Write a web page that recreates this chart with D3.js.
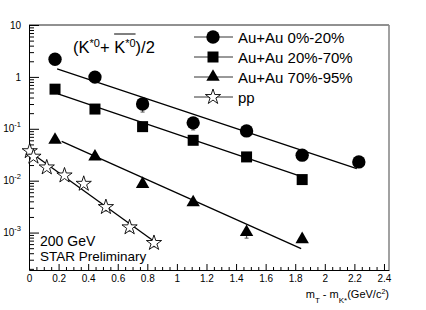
<!DOCTYPE html>
<html>
<head>
<meta charset="utf-8">
<script src="https://cdn.jsdelivr.net/npm/d3@7"></script>
<style>
  body { margin: 0; background: #fff; }
  svg { font-family: "Liberation Sans", Arial, Helvetica, sans-serif; }
</style>
</head>
<body>
<svg id="chart"></svg>
<script>
// values (x: mT - m0 in GeV/c^2, y: yield)
const central_x = [0.176, 0.446, 0.768, 1.110, 1.471, 1.847, 2.230];
const central_y = [2.19, 0.99, 0.30, 0.13, 0.091, 0.031, 0.023];
const central_err = [0, 0, 0.09, 0.035, 0, 0.006, 0];

const mid_x = [0.176, 0.446, 0.768, 1.110, 1.471, 1.847];
const mid_y = [0.58, 0.24, 0.11, 0.060, 0.0287, 0.0105];

const periph_x = [0.176, 0.446, 0.768, 1.110, 1.471, 1.847];
const periph_y = [0.061, 0.029, 0.0086, 0.0038, 0.00102, 0.00074];
const periph_err = [0, 0, 0, 0, 0.00024, 0];

const pp_x = [0.005, 0.03, 0.12, 0.24, 0.37, 0.52, 0.68, 0.845];
const pp_y = [0.037, 0.029, 0.018, 0.0126, 0.0087, 0.0031, 0.00126, 0.00063];
const pp_err = [0, 0, 0, 0, 0.001, 0.0005, 0.0002, 0.0001];

// exponential fits, drawn between their end points
const fitCentral = [[0.19, 1.43], [2.216, 0.017]];
const fitMid = [[0.196, 0.47], [1.824, 0.0125]];
const fitPeriph = [[0.221, 0.057], [1.84, 0.00049]];
const fitPP = [[0.0, 0.0369], [0.831, 0.00073]];

const legendLabels = ["Au+Au 0%-20%", "Au+Au 20%-70%", "Au+Au 70%-95%", "pp"];
const xMajorTicks = [0, 0.2, 0.4, 0.6, 0.8, 1, 1.2, 1.4, 1.6, 1.8, 2, 2.2, 2.4];
const yMajorTicks = [1e-3, 1e-2, 1e-1, 1, 10];

const W = 426, H = 310;
const svg = d3.select("#chart").attr("width", W).attr("height", H);

const x = d3.scaleLinear().domain([0, 2.434]).range([29, 389]);
const y = d3.scaleLog().domain([1.9e-4, 10]).range([270, 25]);

// minor ticks
const xMinor = d3.range(0, 2.4001, 0.05).filter(v => Math.abs(v / 0.2 - Math.round(v / 0.2)) > 1e-6);
const yMinor = [];
for (let e = -4; e <= 0; e++) {
  for (let k = 2; k <= 9; k++) {
    const v = k * Math.pow(10, e);
    if (v >= 1.9e-4 && v <= 10) yMinor.push(v);
  }
}

// frame
svg.append("line").attr("x1", 29).attr("x2", 389).attr("y1", 25).attr("y2", 25)
  .attr("stroke", "#222").attr("stroke-width", 1);
svg.append("line").attr("x1", 389).attr("x2", 389).attr("y1", 25).attr("y2", 270)
  .attr("stroke", "#8a8a8a").attr("stroke-width", 1.6);

// x axis
svg.append("g").attr("transform", "translate(0,270)")
  .call(d3.axisBottom(x).tickValues(xMinor).tickSizeInner(-3).tickSizeOuter(0).tickFormat(""))
  .call(g => g.select(".domain").remove());
svg.append("g").attr("transform", "translate(0,270)")
  .call(d3.axisBottom(x).tickValues(xMajorTicks).tickSizeInner(-6).tickSizeOuter(0)
    .tickPadding(5).tickFormat(d3.format("~g")))
  .call(g => g.selectAll("text").attr("font-size", 10).attr("font-family", null).attr("fill", "#000"))
  .call(g => g.selectAll(".domain, line").attr("stroke", "#000"));

// y axis
svg.append("g").attr("transform", "translate(29,0)")
  .call(d3.axisLeft(y).tickValues(yMinor).tickSizeInner(-5).tickSizeOuter(0).tickFormat(""))
  .call(g => g.select(".domain").remove());
const yAxis = svg.append("g").attr("transform", "translate(29,0)")
  .call(d3.axisLeft(y).tickValues(yMajorTicks).tickSizeInner(-10).tickSizeOuter(0).tickPadding(8))
  .call(g => g.selectAll(".domain, line").attr("stroke", "#000"));
yAxis.selectAll(".tick text").each(function (d) {
  const t = d3.select(this).text("").attr("font-size", 10).attr("font-family", null).attr("fill", "#000");
  const e = Math.round(Math.log10(d));
  if (e === 0) { t.text("1"); return; }
  t.append("tspan").text("10");
  if (e !== 1) t.append("tspan").attr("font-size", 7.5).attr("dy", -5).text(String(e));
});

// fit lines
const line = d3.line().x(d => x(d[0])).y(d => y(d[1]));
[fitCentral, fitMid, fitPeriph, fitPP].forEach(f => {
  svg.append("path").datum(f).attr("d", line)
    .attr("fill", "none").attr("stroke", "#000").attr("stroke-width", 1.3);
});

// error bars
function errBars(xs, ys, es) {
  xs.forEach((xv, i) => {
    if (!es[i]) return;
    svg.append("line")
      .attr("x1", x(xv)).attr("x2", x(xv))
      .attr("y1", y(ys[i] + es[i])).attr("y2", y(ys[i] - es[i]))
      .attr("stroke", "#555").attr("stroke-width", 1.2);
    svg.append("line")
      .attr("x1", x(xv) - 2).attr("x2", x(xv) + 2)
      .attr("y1", y(ys[i] - es[i])).attr("y2", y(ys[i] - es[i]))
      .attr("stroke", "#555").attr("stroke-width", 1);
  });
}
errBars(central_x, central_y, central_err);
errBars(periph_x, periph_y, periph_err);
errBars(pp_x, pp_y, pp_err);

// markers
const markers = [
  { xs: central_x, ys: central_y, sym: d3.symbol(d3.symbolCircle, 140), fill: "#000" },
  { xs: mid_x, ys: mid_y, sym: d3.symbol(d3.symbolSquare, 121), fill: "#000" },
  { xs: periph_x, ys: periph_y, sym: d3.symbol(d3.symbolTriangle, 78), fill: "#000" },
  { xs: pp_x, ys: pp_y, sym: d3.symbol(d3.symbolStar, 72), fill: "#fff" }
];
markers.forEach(m => {
  svg.append("g").selectAll("path")
    .data(m.xs.map((xv, i) => [xv, m.ys[i]]))
    .join("path")
    .attr("transform", d => `translate(${x(d[0])},${y(d[1])})`)
    .attr("d", m.sym)
    .attr("fill", m.fill)
    .attr("stroke", "#000")
    .attr("stroke-width", m.fill === "#fff" ? 0.9 : 0);
});

// legend
const leg = svg.append("g");
legendLabels.forEach((lab, i) => {
  const ly = 37 + i * 20;
  leg.append("line").attr("x1", 194).attr("x2", 233).attr("y1", ly).attr("y2", ly)
    .attr("stroke", "#333").attr("stroke-width", 1);
  leg.append("path").attr("transform", `translate(213,${ly})`).attr("d", markers[i].sym)
    .attr("fill", markers[i].fill).attr("stroke", "#000")
    .attr("stroke-width", markers[i].fill === "#fff" ? 0.9 : 0);
  leg.append("text").attr("x", 238).attr("y", ly + 5.5)
    .attr("font-size", 15).attr("fill", "#000").text(lab);
});

// title (K*0 + K*0bar)/2
const title = svg.append("text").attr("x", 73).attr("y", 53).attr("font-size", 16.5).attr("fill", "#000");
title.append("tspan").text("(K");
title.append("tspan").attr("font-size", 11).attr("dy", -6).text("*0");
title.append("tspan").attr("dy", 6).text("+ K");
title.append("tspan").attr("font-size", 11).attr("dy", -6).text("*0");
title.append("tspan").attr("dy", 6).text(")/2");
const tn = title.node();
const kStart = tn.getExtentOfChar(6);
const kEnd = tn.getExtentOfChar(8);
svg.append("line")
  .attr("x1", kStart.x).attr("x2", kEnd.x + kEnd.width)
  .attr("y1", 34).attr("y2", 34)
  .attr("stroke", "#000").attr("stroke-width", 1);

// annotations
svg.append("text").attr("x", 40).attr("y", 246).attr("font-size", 14).attr("fill", "#000").text("200 GeV");
svg.append("text").attr("x", 40).attr("y", 261).attr("font-size", 13.5).attr("fill", "#000").text("STAR Preliminary");

// x axis title
const xt = svg.append("text").attr("x", 389).attr("y", 298).attr("text-anchor", "end")
  .attr("font-size", 11).attr("fill", "#000");
xt.append("tspan").text("m");
xt.append("tspan").attr("font-size", 8).attr("dy", 5).text("T");
xt.append("tspan").attr("dy", -5).text(" - m");
xt.append("tspan").attr("font-size", 8).attr("dy", 5).text("K*");
xt.append("tspan").attr("dy", -5).text("(GeV/c");
xt.append("tspan").attr("font-size", 7).attr("dy", -4).text("2");
xt.append("tspan").attr("dy", 4).text(")");
</script>
</body>
</html>
